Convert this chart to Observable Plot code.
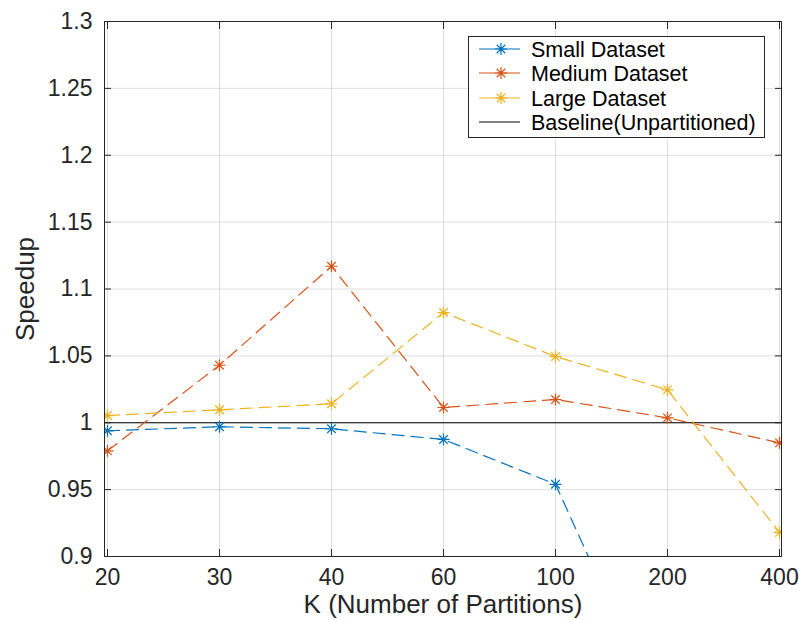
<!DOCTYPE html>
<html><head><meta charset="utf-8">
<script src="https://cdn.jsdelivr.net/npm/d3@7"></script>
<script src="https://cdn.jsdelivr.net/npm/@observablehq/plot@0.6"></script>
<style>
body{margin:0;background:#fff;}
#wrap{position:relative;width:803px;height:620px;font-family:"Liberation Sans",Arial,Helvetica,sans-serif;}
#legend{position:absolute;left:468px;top:36px;}
</style></head><body><div id="wrap"></div>
<script>
const kLabels = ["20","30","40","60","100","200","400"];
const smallSpeedup  = [0.994, 0.997, 0.9955, 0.9875, 0.954, 0.77, 0.60];
const mediumSpeedup = [0.979, 1.043, 1.117, 1.0114, 1.0174, 1.0037, 0.985];
const largeSpeedup  = [1.0054, 1.0097, 1.0142, 1.0824, 1.0495, 1.0246, 0.918];
const baselineSpeedup = [1];
const yTicks = [0.9, 0.95, 1, 1.05, 1.1, 1.15, 1.2, 1.25, 1.3];
const seriesNames = ["Small Dataset", "Medium Dataset", "Large Dataset"];
const seriesColors = ["#0072BD", "#D95319", "#EDB120"];
const baselineName = "Baseline(Unpartitioned)";
const xTitle = "K (Number of Partitions)";
const yTitle = "Speedup";

const seriesValues = [smallSpeedup, mediumSpeedup, largeSpeedup];
const rows = seriesNames.flatMap((name, i) => kLabels.map((k, j) => ({series: name, k, speedup: seriesValues[i][j]})));

const asterisk = {draw(ctx, size) {
  const r = Math.sqrt(size / Math.PI), d = r * Math.SQRT1_2;
  ctx.moveTo(-r, 0); ctx.lineTo(r, 0);
  ctx.moveTo(0, -r); ctx.lineTo(0, r);
  ctx.moveTo(-d, -d); ctx.lineTo(d, d);
  ctx.moveTo(-d, d); ctx.lineTo(d, -d);
}};

const ink = "#262626";
const font = '"Liberation Sans", Arial, Helvetica, sans-serif';
const fmt = d => String(+d.toFixed(2));

const chart = Plot.plot({
  width: 803, height: 620,
  marginLeft: 104, marginRight: 22, marginTop: 21, marginBottom: 64,
  style: {fontFamily: font, fontSize: "23px", color: ink, background: "white"},
  x: {type: "point", domain: kLabels, padding: 0, label: null},
  y: {domain: [0.9, 1.3], label: null},
  color: {domain: seriesNames, range: seriesColors},
  marks: [
    Plot.gridX({stroke: ink, strokeOpacity: 0.15}),
    Plot.gridY({ticks: yTicks, stroke: ink, strokeOpacity: 0.15}),
    Plot.ruleY(baselineSpeedup, {stroke: "black", strokeWidth: 1}),
    Plot.line(rows, {x: "k", y: "speedup", z: "series", stroke: "series", strokeWidth: 1.2, strokeDasharray: "12,7", clip: true}),
    Plot.dot(rows, {x: "k", y: "speedup", stroke: "series", symbol: asterisk, r: 6, fill: "none", strokeWidth: 1.2, clip: true}),
    Plot.frame({stroke: ink}),
    Plot.axisX({anchor: "bottom", tickSize: 0, tickPadding: 12, label: null}),
    Plot.axisY({anchor: "left", ticks: yTicks, tickSize: 0, tickPadding: 12, tickFormat: fmt, label: null}),
    Plot.axisX({anchor: "bottom", tickSize: 7, dy: -7, tickFormat: () => "", label: null}),
    Plot.axisX({anchor: "top", tickSize: 7, dy: 7, tickFormat: () => "", label: null}),
    Plot.axisY({anchor: "left", ticks: yTicks, tickSize: 7, dx: 7, tickFormat: () => "", label: null}),
    Plot.axisY({anchor: "right", ticks: yTicks, tickSize: 7, dx: -7, tickFormat: () => "", label: null}),
    Plot.text([xTitle], {frameAnchor: "bottom", dy: 48, textAnchor: "middle", lineAnchor: "middle", fontSize: 26, fill: ink}),
    Plot.text([yTitle], {frameAnchor: "left", dx: -79, rotate: -90, textAnchor: "middle", lineAnchor: "middle", fontSize: 26, fill: ink})
  ]
});
const wrap = document.getElementById("wrap");
wrap.appendChild(chart);

// legend
const lw = 297, lh = 102;
const rowY = [13, 37, 62, 86];
let s = `<svg id="legend" width="${lw}" height="${lh}" xmlns="http://www.w3.org/2000/svg" style="font-family:${font.replace(/"/g, "'")}">`;
s += `<rect x="0.5" y="0.5" width="${lw - 1}" height="${lh - 1}" fill="white" stroke="${ink}" stroke-width="1"/>`;
seriesNames.forEach((name, i) => {
  const y = rowY[i], c = seriesColors[i], cx = 33, r = 6, d = r * Math.SQRT1_2;
  s += `<line x1="11" x2="52" y1="${y}" y2="${y}" stroke="${c}" stroke-width="1.2"/>`;
  s += `<path d="M${cx - r},${y}H${cx + r}M${cx},${y - r}V${y + r}M${cx - d},${y - d}L${cx + d},${y + d}M${cx - d},${y + d}L${cx + d},${y - d}" stroke="${c}" stroke-width="1.2" fill="none"/>`;
  s += `<text x="63" y="${y}" dy="0.35em" font-size="21.5" fill="black">${name}</text>`;
});
s += `<line x1="11" x2="52" y1="${rowY[3]}" y2="${rowY[3]}" stroke="black" stroke-width="1.2"/>`;
s += `<text x="63" y="${rowY[3]}" dy="0.35em" font-size="21.5" fill="black">${baselineName}</text>`;
s += `</svg>`;
wrap.insertAdjacentHTML("beforeend", s);
</script></body></html>
